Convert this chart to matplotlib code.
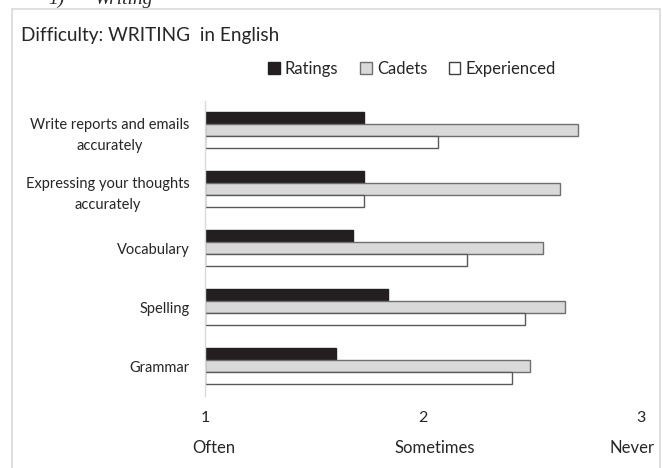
import numpy as np
import matplotlib
matplotlib.use("Agg")
import matplotlib.pyplot as plt
from matplotlib.patches import Rectangle, Patch
from matplotlib.transforms import blended_transform_factory

plt.rcParams['font.family'] = ['Lato', 'DejaVu Sans']

# Data (bottom to top on the chart)
categories = ["Grammar", "Spelling", "Vocabulary",
              "Expressing your thoughts\naccurately",
              "Write reports and emails\naccurately"]
ratings = [1.60, 1.84, 1.68, 1.73, 1.73]
cadets = [2.49, 2.65, 2.55, 2.63, 2.71]
experienced = [2.41, 2.47, 2.20, 1.73, 2.07]
series_names = ["Ratings", "Cadets", "Experienced"]
x_ticks = [1, 2, 3]
scale_words = ["Often", "Sometimes", "Never"]

W, H = 663, 468
fig = plt.figure(figsize=(W / 100, H / 100), dpi=100)
fig.patch.set_facecolor("white")

text_col = "#262626"

# outer chart frame
fig.patches.append(Rectangle((12 / W, -0.01), (660 - 12) / W, 1 - 9 / H + 0.01,
                             transform=fig.transFigure, fill=False,
                             edgecolor="#d9d9d9", linewidth=1.2))

# section heading above the frame (runs off the top edge)
fig.text(48 / W, 1 - 4 / H, "1)", family=["Liberation Serif"], style="italic",
         fontsize=14, color=text_col, va="baseline")
fig.text(95 / W, 1 - 4 / H, "Writing", family=["Liberation Serif"], style="italic",
         fontsize=14, color=text_col, va="baseline")

ax = fig.add_axes([205 / W, 1 - 395.5 / H, 436 / W, 294.5 / H])

y = np.arange(len(categories))
h = 0.204
common = dict(left=1, height=h, linewidth=1.0)
ax.barh(y + h, np.array(ratings) - 1, color="#231f20", edgecolor="#231f20", **common)
ax.barh(y, np.array(cadets) - 1, color="#d9d9d9", edgecolor="#6f6f6f", **common)
ax.barh(y - h, np.array(experienced) - 1, color="white", edgecolor="#595959", **common)

ax.set_xlim(1, 3)
ax.set_ylim(-0.5, 4.5)
ax.set_yticks(y)
ax.set_yticklabels(categories, fontsize=10.5, color=text_col)
for lbl in ax.get_yticklabels():
    lbl.set_multialignment("center")
    lbl.set_linespacing(1.65)
ax.set_xticks(x_ticks)
ax.set_xticklabels([str(t) for t in x_ticks], fontsize=11.5, color=text_col)
ax.tick_params(axis="both", length=0)
ax.tick_params(axis="y", pad=11)
ax.tick_params(axis="x", pad=11)

for s in ["top", "right", "bottom"]:
    ax.spines[s].set_visible(False)
ax.spines["left"].set_color("#d9d9d9")
ax.spines["left"].set_linewidth(1.0)

# scale words under the numeric ticks
word_x = [1.04, 2.055, 2.96]
tr = blended_transform_factory(ax.transData, fig.transFigure)
for xv, word in zip(word_x, scale_words):
    ax.text(xv, 1 - 448 / H, word, transform=tr,
            ha="center", va="center", fontsize=12, color=text_col)

fig.text(21 / W, 1 - 35 / H, "Difficulty: WRITING  in English", fontsize=13.7,
         color=text_col, va="center", ha="left")

handles = [Patch(facecolor="#231f20", edgecolor="#231f20"),
           Patch(facecolor="#d9d9d9", edgecolor="#6f6f6f"),
           Patch(facecolor="white", edgecolor="#404040")]
leg = fig.legend(handles, series_names, loc="center", bbox_to_anchor=(412 / W, 1 - 69 / H),
                 ncol=3, frameon=False, fontsize=12, handlelength=0.7, handleheight=0.7,
                 handletextpad=0.3, columnspacing=1.3)
for t in leg.get_texts():
    t.set_color(text_col)

fig.savefig("out.png", dpi=100, facecolor="white")
